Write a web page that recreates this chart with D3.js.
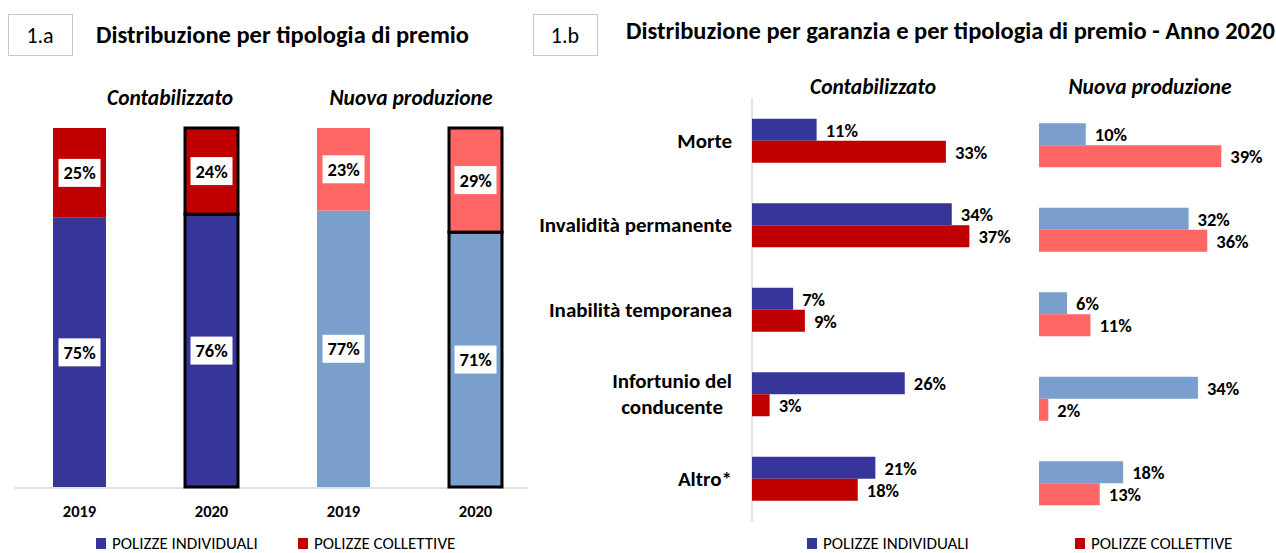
<!DOCTYPE html>
<html>
<head>
<meta charset="utf-8">
<script src="https://cdn.jsdelivr.net/npm/d3@7"></script>
<style>
  body { margin: 0; background: #fff; }
  text { font-family: Calibri, Carlito, Lato, sans-serif; fill: #000; }
</style>
</head>
<body>
<script>
// data 1.a
var years = ["2019", "2020", "2019", "2020"];
var individuali = [75, 76, 77, 71];
var collettive = [25, 24, 23, 29];
var bordered = [false, true, false, true];

// data 1.b
var garanzie = ["Morte", "Invalidità permanente", "Inabilità temporanea", "Infortunio del\nconducente", "Altro*"];
var contIndividuali = [11, 34, 7, 26, 21];
var contCollettive = [33, 37, 9, 3, 18];
var nuovaIndividuali = [10, 32, 6, 34, 18];
var nuovaCollettive = [39, 36, 11, 2, 13];

var legendLabels = ["POLIZZE INDIVIDUALI", "POLIZZE COLLETTIVE"];

var darkBlue = "#35359a";
var darkRed = "#c00000";
var lightBlue = "#7a9fcd";
var lightRed = "#ff6666";
var width = 1276;
var height = 553;

var svg = d3.select("body")
            .append("svg")
            .attr("width", width)
            .attr("height", height);

// numbered boxes and titles
function header(x, label, title, titleX, titleY) {
  svg.append("rect")
     .attr("x", x + 0.5).attr("y", 14.5)
     .attr("width", 64).attr("height", 41)
     .attr("fill", "none").attr("stroke", "#c8c8c8");
  svg.append("text")
     .attr("x", x + 32).attr("y", 43)
     .attr("text-anchor", "middle")
     .style("font-size", "22px")
     .text(label);
  svg.append("text")
     .attr("x", titleX).attr("y", titleY)
     .style("font-size", "24.5px").style("font-weight", "bold")
     .text(title);
}
header(8, "1.a", "Distribuzione per tipologia di premio", 96, 43);
header(533, "1.b", "Distribuzione per garanzia e per tipologia di premio - Anno 2020", 626, 39);

function subhead(x, y, t) {
  svg.append("text")
     .attr("x", x).attr("y", y)
     .attr("text-anchor", "middle")
     .style("font-size", "21.5px").style("font-weight", "bold").style("font-style", "italic")
     .text(t);
}
subhead(170, 105, "Contabilizzato");
subhead(411, 105, "Nuova produzione");
subhead(873, 94, "Contabilizzato");
subhead(1150, 94, "Nuova produzione");

// ---------- 1.a stacked columns ----------
var x1 = d3.scalePoint()
           .domain(d3.range(years.length))
           .range([13.5, 541.5])
           .padding(0.5);
var y1 = d3.scaleLinear().domain([0, 100]).range([487, 128]);
var barW = 53;

svg.append("line")
   .attr("x1", 14).attr("x2", 528)
   .attr("y1", 488).attr("y2", 488)
   .attr("stroke", "#d9d9d9").attr("stroke-width", 1.5);

var cols = svg.selectAll(".col")
              .data(years.map(function(yr, i) {
                return { i: i, year: yr, ind: individuali[i], coll: collettive[i], border: bordered[i] };
              }))
              .enter().append("g");

cols.each(function(d) {
  var g = d3.select(this);
  var cx = x1(d.i);
  var light = d.i >= 2;
  var segs = [
    { y0: 0, y1: d.ind, v: d.ind, fill: light ? lightBlue : darkBlue },
    { y0: d.ind, y1: d.ind + d.coll, v: d.coll, fill: light ? lightRed : darkRed }
  ];
  segs.forEach(function(s) {
    g.append("rect")
     .attr("x", cx - barW / 2)
     .attr("y", y1(s.y1))
     .attr("width", barW)
     .attr("height", y1(s.y0) - y1(s.y1))
     .attr("fill", s.fill)
     .attr("stroke", d.border ? "#000" : "none")
     .attr("stroke-width", 3);
  });
  segs.forEach(function(s) {
    var cy = (y1(s.y0) + y1(s.y1)) / 2;
    g.append("rect")
     .attr("x", cx - 21).attr("y", cy - 14)
     .attr("width", 42).attr("height", 28)
     .attr("fill", "#fff");
    g.append("text")
     .attr("x", cx).attr("y", cy + 6.5)
     .attr("text-anchor", "middle")
     .style("font-size", "18.5px").style("font-weight", "bold")
     .text(s.v + "%");
  });
  g.append("text")
   .attr("x", cx).attr("y", 517)
   .attr("text-anchor", "middle")
   .style("font-size", "16.5px").style("font-weight", "bold")
   .text(d.year);
});

// ---------- 1.b grouped horizontal bars ----------
var yCont = d3.scaleBand().domain(garanzie).range([98.5, 521]);
var yNuova = d3.scaleBand().domain(garanzie).range([103, 525.5]);
var serie = d3.scaleBand().domain(["ind", "coll"]).range([-22, 22]);
var xCont = d3.scaleLinear().domain([0, 40]).range([752, 987]);
var xNuova = d3.scaleLinear().domain([0, 40]).range([1039, 1226]);

svg.append("line")
   .attr("x1", 752).attr("x2", 752)
   .attr("y1", 98).attr("y2", 522)
   .attr("stroke", "#d9d9d9").attr("stroke-width", 1.5);

// category labels
garanzie.forEach(function(cat) {
  var lines = cat.split("\n");
  var cy = yCont(cat) + yCont.bandwidth() / 2;
  var t = svg.append("text")
             .attr("x", 732)
             .attr("y", cy + 7 - (lines.length - 1) * 13)
             .attr("text-anchor", "end")
             .style("font-size", "21px").style("font-weight", "bold")
             .text(lines[0]);
  if (lines.length > 1) {
    var w = t.node().getComputedTextLength();
    svg.append("text")
       .attr("x", 732 - w / 2)
       .attr("y", cy + 7 + 13)
       .attr("text-anchor", "middle")
       .style("font-size", "21px").style("font-weight", "bold")
       .text(lines[1]);
  }
});

function hbars(ind, coll, x, y, cInd, cColl) {
  var rows = [];
  garanzie.forEach(function(cat, i) {
    rows.push({ cat: cat, s: "ind", v: ind[i], fill: cInd });
    rows.push({ cat: cat, s: "coll", v: coll[i], fill: cColl });
  });
  var g = svg.append("g");
  g.selectAll("rect")
   .data(rows)
   .enter().append("rect")
   .attr("x", x(0))
   .attr("y", function(d) { return y(d.cat) + y.bandwidth() / 2 + serie(d.s); })
   .attr("width", function(d) { return x(d.v) - x(0); })
   .attr("height", serie.bandwidth())
   .attr("fill", function(d) { return d.fill; });
  g.selectAll("text")
   .data(rows)
   .enter().append("text")
   .attr("x", function(d) { return x(d.v) + 9; })
   .attr("y", function(d) { return y(d.cat) + y.bandwidth() / 2 + serie(d.s) + serie.bandwidth() / 2 + 7; })
   .style("font-size", "18.5px").style("font-weight", "bold")
   .text(function(d) { return d.v + "%"; });
}
hbars(contIndividuali, contCollettive, xCont, yCont, darkBlue, darkRed);
hbars(nuovaIndividuali, nuovaCollettive, xNuova, yNuova, lightBlue, lightRed);

// legends
function legend(xs) {
  [darkBlue, darkRed].forEach(function(c, i) {
    svg.append("rect")
       .attr("x", xs[i]).attr("y", 538)
       .attr("width", 10).attr("height", 11)
       .attr("fill", c);
    svg.append("text")
       .attr("x", xs[i] + 16).attr("y", 549)
       .style("font-size", "17px")
       .text(legendLabels[i]);
  });
}
legend([96, 298]);
legend([807, 1075]);
</script>
</body>
</html>
